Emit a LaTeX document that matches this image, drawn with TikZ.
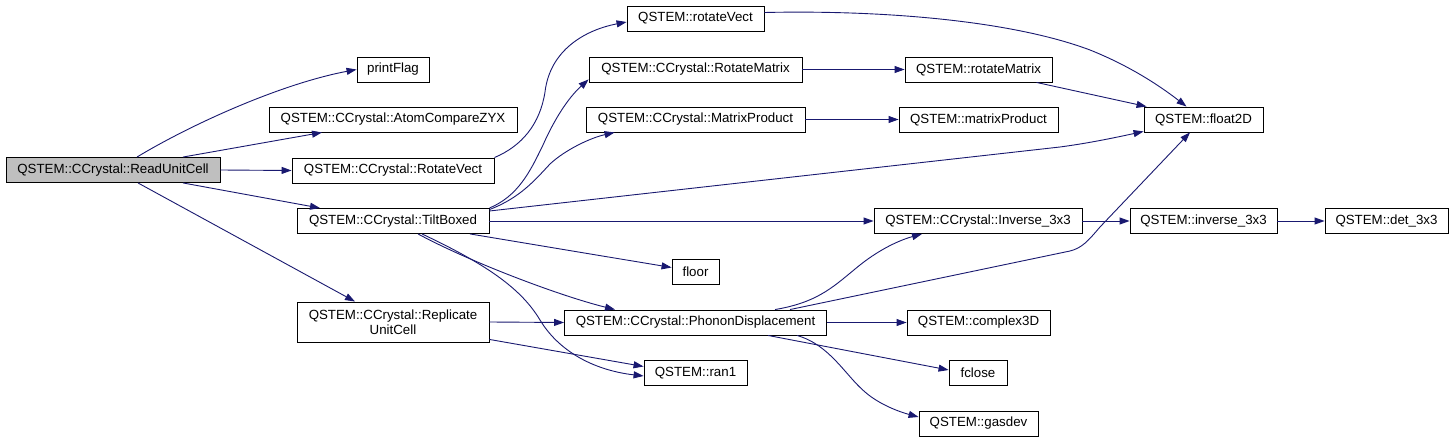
\documentclass[tikz,border=0pt]{standalone}
\usepackage{fontspec}
\setmainfont{Liberation Sans}
\usetikzlibrary{arrows.meta,calc}
\definecolor{edgeblue}{HTML}{191970}
\definecolor{boxgray}{HTML}{BFBFBF}
\begin{document}
\begin{tikzpicture}[x=1pt,y=-1pt,
  fn/.style={draw=black, line width=0.9pt, fill=white, inner sep=0pt, minimum height=25pt,
    font=\fontsize{13.3}{15}\selectfont, align=center},
  call/.style={draw=edgeblue, line width=0.9pt, -{Triangle[length=10pt,width=7pt]}, fill=none}
]
\useasboundingbox (0,0) rectangle (1453,443);
\fill[white] (0,0) rectangle (1453,443);
% nodes
\node[fn, fill=boxgray, minimum width=214pt] (rc) at (113,170) {QSTEM::CCrystal::ReadUnitCell};
\node[fn, minimum width=72pt] (pf) at (393,69.5) {printFlag};
\node[fn, minimum width=248pt] (acz) at (393,119.5) {QSTEM::CCrystal::AtomCompareZYX};
\node[fn, minimum width=202pt] (rv) at (393,170.5) {QSTEM::CCrystal::RotateVect};
\node[fn, minimum width=192pt] (tb) at (393,221) {QSTEM::CCrystal::TiltBoxed};
\node[fn, minimum width=192pt, minimum height=40pt] (ru) at (393,322) {QSTEM::CCrystal::Replicate\\UnitCell};
\node[fn, minimum width=137pt] (qrv) at (695.5,18.5) {QSTEM::rotateVect};
\node[fn, minimum width=213pt] (rm) at (695.5,69.5) {QSTEM::CCrystal::RotateMatrix};
\node[fn, minimum width=219pt] (mp) at (695.5,119.5) {QSTEM::CCrystal::MatrixProduct};
\node[fn, minimum width=47pt] (fl) at (695.5,271.5) {floor};
\node[fn, minimum width=262pt] (pd) at (695.5,322.5) {QSTEM::CCrystal::PhononDisplacement};
\node[fn, minimum width=103pt] (r1) at (695.5,373) {QSTEM::ran1};
\node[fn, minimum width=147pt] (qrm) at (978.5,69.5) {QSTEM::rotateMatrix};
\node[fn, minimum width=159pt] (qmp) at (978.5,119.5) {QSTEM::matrixProduct};
\node[fn, minimum width=208pt] (inv) at (978,221) {QSTEM::CCrystal::Inverse\_3x3};
\node[fn, minimum width=143pt] (c3) at (978.5,322.5) {QSTEM::complex3D};
\node[fn, minimum width=58pt] (fc) at (978,373) {fclose};
\node[fn, minimum width=119pt] (gd) at (978.5,423.5) {QSTEM::gasdev};
\node[fn, minimum width=119pt] (f2d) at (1203.5,119.5) {QSTEM::float2D};
\node[fn, minimum width=147pt] (qinv) at (1203.5,221) {QSTEM::inverse\_3x3};
\node[fn, minimum width=123pt] (det) at (1386.5,221) {QSTEM::det\_3x3};
% edges from ReadUnitCell
\draw[call] ($(rc.north)+(24,0)$) .. controls (190,125) and (280,84) .. (pf.west);
\draw[call] ($(rc.north)+(70,0)$) -- ($(acz.south)+(-71,0)$);
\draw[call] (rc.east) -- (rv.west);
\draw[call] ($(rc.south)+(70,0)$) -- ($(tb.north)+(-73,0)$);
\draw[call] ($(rc.south)+(25,0)$) -- ($(ru.north)+(-38,0)$);
% RotateVect
\draw[call] (rv.north east) .. controls (522,146) and (540,124) .. (545,92) .. controls (550,50) and (585,30) .. ($(qrv.west)+(0,3.5)$);
\draw[call] ($(qrv.east)+(0,-6)$) .. controls (880,10) and (1010,20) .. (1090,50) .. controls (1130,66) and (1160,86) .. ($(f2d.north)+(-17,0)$);
% TiltBoxed
\draw[call] (tb.north east) .. controls (518,196) and (530,172) .. (543,145) .. controls (554,120) and (568,98) .. ($(rm.south west)+(0,-3)$);
\draw[call] ($(tb.north east)+(0,1.5)$) .. controls (520,198) and (535,180) .. (550,164) .. controls (565,150) and (590,138) .. ($(mp.south west)+(29,0)$);
\draw[call] ($(tb.east)+(0,-10)$) -- (1060,147) .. controls (1090,143) and (1118,137) .. ($(f2d.south west)+(0,-1)$);
\draw[call] (tb.east) -- (inv.west);
\draw[call] ($(tb.south)+(77,0)$) -- ($(fl.west)+(0,-4)$);
\draw[call] ($(tb.south)+(25,0)$) .. controls (470,262) and (560,296) .. ($(pd.north)+(-80.5,0)$);
\draw[call] ($(tb.south)+(29,0)$) .. controls (490,266) and (522,290) .. (540,320) .. controls (558,350) and (592,370) .. ($(r1.west)+(0,3)$);
% ReplicateUnitCell
\draw[call] (ru.east) -- (pd.west);
\draw[call] ($(ru.south east)+(0,-3)$) -- ($(r1.west)+(0,-6.5)$);
% column 2
\draw[call] (rm.east) -- (qrm.west);
\draw[call] (mp.east) -- (qmp.west);
\draw[call] ($(qrm.south)+(58,0)$) -- ($(f2d.north west)+(3,0)$);
\draw[call] (inv.east) -- (qinv.west);
\draw[call] (qinv.east) -- (det.west);
% PhononDisplacement
\draw[call] ($(pd.north)+(79.5,0)$) .. controls (820,302) and (835,285) .. (860,265) .. controls (880,249) and (900,240) .. ($(inv.south)+(-56,0)$);
\draw[call] ($(pd.north)+(94.5,0)$) -- (1070,251) .. controls (1082,248) and (1088,241) .. (1100,227) -- ($(f2d.south)+(-13.5,0)$);
\draw[call] (pd.east) -- (c3.west);
\draw[call] ($(pd.south)+(72.5,0)$) -- ($(fc.west)+(0,-3)$);
\draw[call] ($(pd.south)+(101.5,0)$) .. controls (830,345) and (845,375) .. (865,392) .. controls (880,405) and (900,412) .. ($(gd.west)+(0,-6.5)$);
\end{tikzpicture}
\end{document}
